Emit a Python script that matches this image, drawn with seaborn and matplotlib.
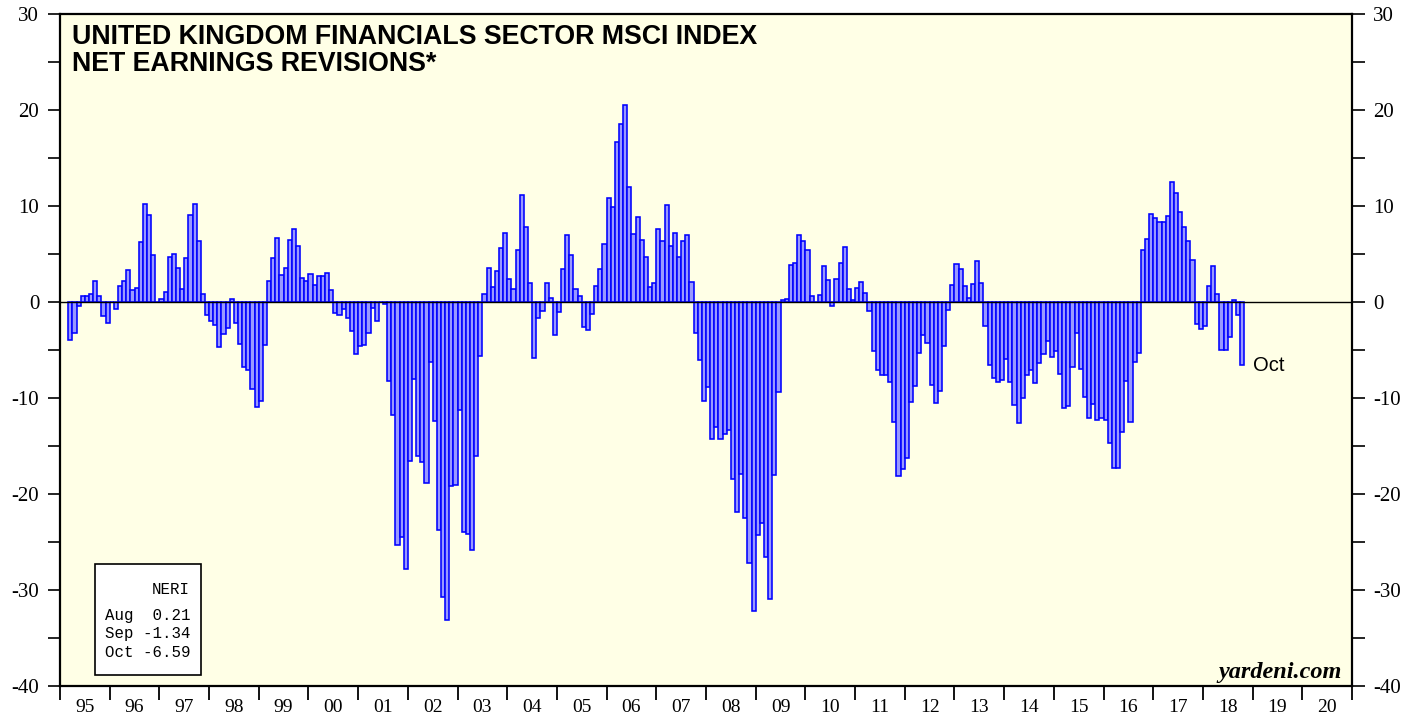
import numpy as np
import pandas as pd
import matplotlib
matplotlib.use("Agg")
import matplotlib.pyplot as plt
from matplotlib.patches import Rectangle
from matplotlib.ticker import MultipleLocator
import seaborn as sns

# UK financials MSCI net earnings revisions (NERI), monthly, Mar 1995 .. Oct 2018
neri_1995 = [-3.96, -3.26, -0.40, 0.66, 0.66, 0.80, 2.15, 0.66, -1.46, -2.20]
neri_1996 = [0.05, -0.76, 1.67, 2.15, 3.33, 1.25, 1.42, 6.20, 10.24, 9.03, 4.93, 0.05]
neri_1997 = [0.28, 1.08, 4.65, 5.03, 3.58, 1.32, 4.55, 9.03, 10.17, 6.35, 0.80, -1.35]
neri_1998 = [-1.94, -2.40, -4.65, -3.37, -2.74, 0.28, -2.15, -4.40, -6.80, -7.08, -9.10, -10.97]
neri_1999 = [-10.35, -4.50, 2.15, 4.55, 6.67, 2.78, 3.58, 6.46, 7.64, 5.87, 2.53, 2.19]
neri_2000 = [2.88, 1.74, 2.74, 2.74, 3.06, 1.25, -1.18, -1.32, -0.76, -1.63, -3.02, -5.45]
neri_2001 = [-4.55, -4.48, -3.26, -0.59, -1.98, 0.00, -0.24, -8.23, -11.74, -25.30, -24.50, -27.80]
neri_2002 = [-16.60, -8.00, -16.00, -16.70, -18.85, -6.30, -12.40, -23.75, -30.70, -33.10, -19.20, -19.06]
neri_2003 = [-11.20, -24.00, -24.20, -25.80, -16.00, -5.60, 0.80, 3.50, 1.60, 3.20, 5.60, 7.15]
neri_2004 = [2.36, 1.32, 5.38, 11.18, 7.78, 1.94, -5.80, -1.70, -0.90, 1.98, 0.45, -3.47]
neri_2005 = [-1.00, 3.47, 6.94, 4.86, 1.32, 0.60, -2.60, -2.90, -1.28, 1.70, 3.40, 6.08]
neri_2006 = [10.83, 9.90, 16.70, 18.50, 20.50, 12.00, 7.05, 8.90, 6.42, 4.65, 1.53, 2.00]
neri_2007 = [7.64, 6.40, 10.07, 5.87, 7.22, 4.72, 6.40, 6.94, 2.12, -3.26, -6.08, -10.35]
neri_2008 = [-8.90, -14.24, -13.00, -14.24, -13.80, -13.33, -18.40, -21.84, -17.90, -22.47, -27.20, -32.20]
neri_2009 = [-24.27, -23.00, -26.56, -30.90, -18.06, -9.34, 0.24, 0.35, 3.90, 4.03, 7.00, 6.40]
neri_2010 = [5.38, 0.60, 0.00, 0.70, 3.72, 2.30, -0.42, 2.36, 4.10, 5.70, 1.39, 0.17]
neri_2011 = [1.46, 2.12, 0.90, -0.90, -5.07, -7.08, -7.57, -7.57, -8.30, -12.50, -18.10, -17.40]
neri_2012 = [-16.30, -10.40, -8.80, -5.30, -3.47, -4.24, -8.65, -10.56, -9.27, -4.58, -0.83, 1.74]
neri_2013 = [4.00, 3.40, 1.63, 0.38, 1.90, 4.27, 1.98, -2.47, -6.56, -7.95, -8.37, -8.10]
neri_2014 = [-5.97, -8.30, -10.70, -12.64, -10.00, -7.60, -7.08, -8.47, -6.38, -5.40, -4.06, -5.76]
neri_2015 = [-5.07, -7.53, -11.04, -10.83, -6.74, -3.23, -6.98, -9.90, -12.10, -10.66, -12.30, -12.10]
neri_2016 = [-12.30, -14.65, -17.30, -17.30, -13.54, -8.23, -12.50, -6.25, -5.30, 5.45, 6.56, 9.20]
neri_2017 = [8.78, 8.37, 8.30, 9.00, 12.50, 11.40, 9.40, 7.85, 6.32, 4.34, -2.30, -2.80]
neri_2018 = [-2.47, 1.70, 3.72, 0.80, -5.00, -5.00, -3.60, 0.21, -1.34, -6.59]

first_month = 2  # March 1995, counted from Jan 1995
year_labels = ["95", "96", "97", "98", "99", "00", "01", "02", "03", "04", "05", "06", "07",
               "08", "09", "10", "11", "12", "13", "14", "15", "16", "17", "18", "19", "20"]
box_months = ["Aug", "Sep", "Oct"]

values = (neri_1995 + neri_1996 + neri_1997 + neri_1998 + neri_1999 + neri_2000 + neri_2001
          + neri_2002 + neri_2003 + neri_2004 + neri_2005 + neri_2006 + neri_2007 + neri_2008
          + neri_2009 + neri_2010 + neri_2011 + neri_2012 + neri_2013 + neri_2014 + neri_2015
          + neri_2016 + neri_2017 + neri_2018)
df = pd.DataFrame({"month": np.arange(len(values)) + first_month + 0.5, "neri": values})

W, H = 1419, 715
sns.set_style("ticks")
plt.rcParams["font.family"] = ["Liberation Serif", "DejaVu Serif"]
plt.rcParams["axes.unicode_minus"] = False
plt.rcParams["text.color"] = "black"


def fx(px):
    return px / W


def fy(py):
    return 1 - py / H


fig = plt.figure(figsize=(W / 100, H / 100), dpi=100)
fig.patch.set_facecolor("white")
ax = fig.add_axes([fx(60), fy(686), fx(1292), 672 / H])
ax.set_facecolor("#FFFFE6")

sns.barplot(data=df, x="month", y="neri", native_scale=True, width=1, color="#9999FF",
            saturation=1, edgecolor="#0000FF", linewidth=1.15, errorbar=None, ax=ax)
ax.axhline(0, color="black", lw=1, zorder=5)

ax.set_xlim(0, 26 * 12)
ax.set_ylim(-40, 30)
ax.set_xlabel("")
ax.set_ylabel("")

# x axis: long ticks at year boundaries, labels in the middle of each year
ax.set_xticks(np.arange(0, 26 * 12 + 1, 12))
ax.set_xticklabels([])
ax.set_xticks(np.arange(6, 26 * 12, 12), minor=True)
ax.set_xticklabels(year_labels, minor=True)
ax.tick_params(axis="x", which="major", direction="out", length=10, width=1.3, color="black")
ax.tick_params(axis="x", which="minor", length=0, pad=9, labelsize=14, labelcolor="black")

# y axis: ticks on both sides
ax.set_yticks(np.arange(-40, 31, 10))
ax.set_yticklabels([str(v) for v in range(-40, 31, 10)])
ax.yaxis.set_minor_locator(MultipleLocator(5))
ax.tick_params(axis="y", which="both", left=True, right=True, labelleft=True, labelright=True,
               direction="out", length=9, width=1.2, color="black")
ax.tick_params(axis="y", which="major", labelsize=15, pad=6, labelcolor="black")

for s in ax.spines.values():
    s.set_visible(True)
    s.set_color("black")
    s.set_linewidth(1.6)

# title
sans = ["Liberation Sans", "DejaVu Sans"]
fig.text(fx(72), fy(44), "UNITED KINGDOM FINANCIALS SECTOR MSCI INDEX", fontsize=19.3,
         fontweight="bold", family=sans, color="black", va="baseline", ha="left")
fig.text(fx(72), fy(71), "NET EARNINGS REVISIONS*", fontsize=19.3,
         fontweight="bold", family=sans, color="black", va="baseline", ha="left")

# last value label
ax.text(first_month + len(values) + 2.2, values[-1], box_months[-1], fontsize=14.5,
        family=sans, color="black", va="center", ha="left")

# value box
fig.add_artist(Rectangle((fx(95), fy(675)), fx(106), 111 / H, transform=fig.transFigure,
                         facecolor="white", edgecolor="black", lw=1.2, zorder=10))
mono = ["Liberation Mono", "DejaVu Sans Mono"]
fig.text(fx(190), fy(594), "NERI", family=mono, fontsize=11.3, color="black",
         ha="right", va="baseline", zorder=11)
for i, (m, v) in enumerate(zip(box_months, values[-3:])):
    fig.text(fx(105), fy(620 + 18.3 * i), f"{m} {v:5.2f}", family=mono, fontsize=11.3,
             color="black", ha="left", va="baseline", zorder=11)

# source
fig.text(fx(1342), fy(678), "yardeni.com", fontsize=17.5, fontweight="bold", fontstyle="italic",
         color="black", ha="right", va="baseline")

fig.savefig("out.png", dpi=100)
